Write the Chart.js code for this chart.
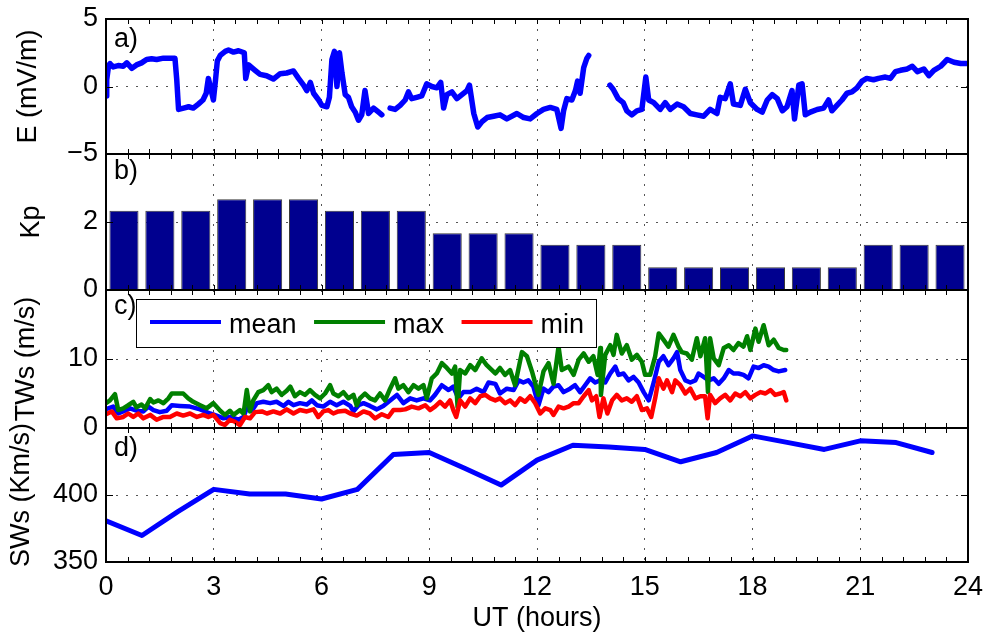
<!DOCTYPE html>
<html><head><meta charset="utf-8">
<script src="https://cdn.jsdelivr.net/npm/chart.js@4/dist/chart.umd.min.js"></script>
<style>
html,body{margin:0;padding:0;background:#fff;}
#wrap{position:relative;width:986px;height:635px;overflow:hidden;}
#wrap canvas{position:absolute;left:0;top:0;}
</style></head><body>
<div id="wrap">
<canvas id="cA" width="986" height="635" style="width:986px;height:635px"></canvas>
<canvas id="cB" width="986" height="635" style="width:986px;height:635px"></canvas>
<canvas id="cC" width="986" height="635" style="width:986px;height:635px"></canvas>
<canvas id="cD" width="986" height="635" style="width:986px;height:635px"></canvas>
</div>
<script>
// ---------- data ----------
const xTickLabels = [0,3,6,9,12,15,18,21,24];
const xTitle = 'UT (hours)';

// a) electric field, [hour, mV/m]
const eData = [
[0.00,-0.7],[0.02,0.5],[0.07,1.5],[0.11,1.7],[0.20,1.45],[0.34,1.55],[0.48,1.5],[0.58,1.75],[0.72,1.35],[0.85,1.6],[0.99,1.75],[1.13,2.0],[1.27,2.05],[1.41,2.0],[1.60,2.1],[1.78,2.1],[1.92,2.1],[1.97,0.5],[2.02,-1.7],[2.16,-1.6],[2.30,-1.5],[2.43,-1.6],[2.57,-1.3],[2.70,-1.0],[2.79,-0.5],[2.85,0.6],[2.92,-0.2],[2.99,-1.0],[3.05,0.5],[3.10,1.9],[3.18,2.3],[3.32,2.6],[3.41,2.7],[3.55,2.55],[3.69,2.65],[3.85,2.5],[3.89,0.6],[3.97,1.6],[4.06,1.4],[4.15,1.2],[4.29,0.9],[4.47,0.8],[4.66,0.55],[4.85,0.95],[5.03,1.0],[5.22,1.15],[5.36,0.6],[5.50,0.1],[5.59,-0.3],[5.69,0.3],[5.78,-0.5],[5.92,-1.0],[6.01,-1.4],[6.15,-1.5],[6.22,-0.8],[6.29,2.0],[6.36,2.6],[6.43,0.0],[6.50,2.5],[6.57,1.0],[6.66,-0.6],[6.75,-0.8],[6.84,-1.5],[6.94,-1.9],[7.03,-2.5],[7.12,-2.1],[7.21,-0.3],[7.31,-2.0],[7.45,-1.6],[7.59,-1.9],[7.68,-2.1],[7.80,null],
[7.91,-1.6],[8.05,-1.7],[8.19,-1.4],[8.33,-1.0],[8.42,-0.4],[8.51,-0.9],[8.65,-0.8],[8.79,-0.7],[8.93,0.2],[9.07,0.0],[9.21,-0.1],[9.32,0.3],[9.40,-1.6],[9.49,-0.6],[9.63,-0.4],[9.77,-0.9],[9.91,-0.6],[10.05,-0.3],[10.12,0.1],[10.24,-2.0],[10.35,-3.0],[10.47,-2.6],[10.61,-2.3],[10.79,-2.2],[10.97,-2.1],[11.16,-2.4],[11.44,-2.0],[11.63,-2.3],[11.81,-2.4],[12.00,-2.0],[12.18,-1.7],[12.37,-1.55],[12.55,-1.7],[12.67,-3.1],[12.74,-1.8],[12.83,-0.9],[12.97,-1.0],[13.07,-0.3],[13.13,0.4],[13.20,-0.5],[13.30,1.4],[13.39,2.1],[13.44,2.3],[13.70,null],
[14.03,0.1],[14.12,-0.2],[14.26,-0.9],[14.40,-1.2],[14.50,-1.8],[14.64,-2.1],[14.78,-1.8],[14.92,-1.7],[15.03,0.7],[15.11,-1.0],[15.25,-1.2],[15.43,-1.7],[15.57,-1.2],[15.71,-1.7],[15.90,-1.3],[16.08,-1.5],[16.27,-2.0],[16.45,-2.1],[16.64,-2.2],[16.82,-1.7],[17.01,-2.0],[17.10,-0.8],[17.24,-0.9],[17.38,0.2],[17.47,-1.3],[17.66,-1.4],[17.80,-0.2],[17.94,-1.2],[18.13,-1.7],[18.27,-1.9],[18.41,-1.0],[18.55,-0.6],[18.69,-0.9],[18.83,-1.8],[18.96,-1.5],[19.10,-0.3],[19.17,-2.4],[19.29,0.1],[19.38,0.2],[19.47,-2.1],[19.61,-1.9],[19.80,-1.7],[19.98,-1.6],[20.12,-1.0],[20.21,-1.8],[20.35,-1.4],[20.49,-1.0],[20.63,-0.5],[20.77,-0.4],[20.91,-0.1],[21.05,0.4],[21.18,0.6],[21.37,0.5],[21.51,0.6],[21.70,0.7],[21.84,0.6],[21.98,1.1],[22.12,1.2],[22.31,1.3],[22.45,1.5],[22.59,1.1],[22.77,1.3],[22.91,0.8],[23.05,1.2],[23.24,1.5],[23.42,2.0],[23.61,1.8],[23.80,1.7],[24.00,1.7]
];

// b) Kp index, 3-hourly blocks plotted per hour
const kpHours = [0.5,1.5,2.5,3.5,4.5,5.5,6.5,7.5,8.5,9.5,10.5,11.5,12.5,13.5,14.5,15.5,16.5,17.5,18.5,19.5,20.5,21.5,22.5,23.5];
const kpValues = [2.33,2.33,2.33,2.67,2.67,2.67,2.33,2.33,2.33,1.67,1.67,1.67,1.33,1.33,1.33,0.67,0.67,0.67,0.67,0.67,0.67,1.33,1.33,1.33];

// c) TWs (m/s), [hour, value]
const seriesLabels = ['mean','max','min'];
const twsMean = [
[0.00,2.74],[0.20,3.1],[0.34,2.1],[0.48,2.4],[0.67,2.85],[0.85,2.5],[1.04,2.4],[1.18,3.1],[1.32,2.6],[1.50,2.3],[1.69,2.5],[1.83,3.3],[2.06,3.2],[2.34,3.1],[2.62,2.7],[2.90,2.1],[3.08,1.8],[3.27,1.4],[3.45,1.6],[3.69,1.2],[3.83,1.6],[3.92,2.85],[4.06,2.5],[4.20,3.6],[4.38,3.8],[4.57,3.6],[4.75,3.8],[4.94,3.2],[5.08,3.8],[5.22,3.3],[5.40,3.6],[5.59,3.4],[5.73,4.0],[5.87,3.3],[6.05,3.1],[6.24,3.8],[6.42,3.3],[6.61,3.8],[6.80,3.2],[6.89,2.4],[7.03,3.3],[7.17,3.6],[7.35,3.2],[7.54,2.7],[7.72,3.2],[7.91,4.0],[8.10,4.8],[8.28,3.6],[8.47,4.3],[8.65,4.0],[8.84,4.3],[9.02,4.0],[9.16,4.8],[9.35,6.2],[9.54,5.5],[9.67,6.0],[9.81,4.3],[9.95,5.2],[10.14,5.2],[10.32,5.7],[10.51,5.2],[10.65,6.6],
[10.84,6.4],[10.97,5.0],[11.16,5.7],[11.35,5.5],[11.49,6.9],[11.62,6.6],[11.76,6.9],[11.90,6.0],[12.04,3.3],[12.18,5.7],[12.32,5.2],[12.46,6.0],[12.60,6.2],[12.74,5.2],[12.92,5.7],[13.06,6.2],[13.20,5.2],[13.34,6.2],[13.48,7.2],[13.62,6.6],[13.76,6.9],[13.90,6.6],[14.04,7.9],[14.18,8.9],[14.27,7.7],[14.41,7.9],[14.55,6.9],[14.69,7.4],[14.83,6.6],[14.97,5.2],[15.11,4.0],[15.25,6.6],[15.39,9.6],[15.52,10.4],[15.66,9.1],[15.80,10.1],[15.90,11.0],[15.99,8.4],[16.13,6.9],[16.27,6.6],[16.41,6.9],[16.50,7.9],[16.64,7.4],[16.78,6.9],[16.92,7.2],[17.06,6.4],[17.20,7.2],[17.34,8.4],[17.47,7.9],[17.61,7.9],[17.75,7.7],[17.89,7.2],[18.03,8.9],[18.17,8.7],[18.31,9.1],[18.45,8.9],[18.59,8.4],[18.73,8.2],[18.91,8.4]
];
const twsMax = [
[0.00,3.6],[0.11,4.0],[0.25,4.9],[0.34,2.6],[0.48,2.85],[0.62,3.3],[0.76,3.8],[0.85,3.0],[0.99,3.4],[1.09,2.85],[1.23,4.2],[1.32,3.7],[1.46,4.0],[1.60,3.6],[1.74,4.3],[1.83,5.0],[1.97,5.0],[2.15,5.0],[2.29,4.3],[2.43,3.8],[2.62,3.3],[2.80,2.85],[2.99,3.6],[3.18,2.5],[3.31,1.9],[3.45,2.5],[3.55,1.9],[3.73,2.6],[3.83,2.1],[3.92,5.5],[4.01,2.4],[4.10,4.0],[4.24,5.2],[4.38,5.5],[4.52,6.2],[4.61,5.2],[4.75,5.7],[4.89,4.8],[5.03,5.4],[5.13,6.0],[5.26,4.6],[5.40,5.2],[5.54,4.8],[5.68,5.5],[5.82,4.8],[5.96,4.3],[6.10,5.0],[6.24,6.2],[6.33,5.0],[6.47,4.6],[6.61,5.2],[6.75,4.3],[6.89,4.8],[6.98,3.3],[7.07,4.3],[7.21,5.0],[7.35,4.3],[7.49,4.0],[7.63,5.0],[7.77,4.0],[7.91,5.7],[8.05,7.2],[8.14,5.7],[8.28,6.2],[8.42,5.2],[8.56,6.2],[8.70,5.7],[8.84,6.2],[8.93,4.3],[9.07,7.2],[9.21,7.9],[9.35,9.4],[9.49,8.7],[9.63,7.9],[9.72,8.9],[9.79,3.0],[9.86,8.4],[10.00,7.9],[10.14,9.1],[10.28,8.4],[10.46,10.1],[10.60,9.1],
[10.84,7.9],[10.97,8.7],[11.11,7.7],[11.25,8.4],[11.39,6.2],[11.58,11.0],[11.72,10.4],[11.86,8.2],[12.04,4.8],[12.18,8.2],[12.32,9.4],[12.46,6.4],[12.60,11.8],[12.69,8.4],[12.88,8.9],[13.02,7.7],[13.16,9.9],[13.30,10.8],[13.44,9.6],[13.57,10.4],[13.69,7.7],[13.76,11.6],[13.78,4.8],[13.90,10.6],[14.04,12.0],[14.13,10.6],[14.22,13.5],[14.36,10.8],[14.50,12.0],[14.64,9.9],[14.78,10.6],[14.92,9.6],[15.01,7.7],[15.15,7.7],[15.29,10.4],[15.39,13.7],[15.52,12.8],[15.66,11.8],[15.80,13.5],[15.94,11.8],[16.03,11.0],[16.17,10.8],[16.31,9.9],[16.45,13.0],[16.55,10.4],[16.68,13.0],[16.76,5.2],[16.82,13.0],[16.92,10.1],[17.06,9.1],[17.20,11.6],[17.34,12.0],[17.47,11.3],[17.61,12.3],[17.75,11.8],[17.85,13.3],[17.94,11.3],[18.08,14.4],[18.17,12.5],[18.31,14.9],[18.45,12.0],[18.59,12.8],[18.73,11.6],[18.87,11.3],[18.94,11.3]
];
const twsMin = [
[0.00,2.0],[0.16,2.4],[0.30,1.4],[0.48,1.6],[0.62,2.1],[0.76,1.6],[0.90,2.1],[1.04,1.4],[1.23,1.9],[1.41,1.2],[1.60,1.6],[1.78,1.6],[1.97,2.1],[2.15,1.8],[2.34,2.1],[2.53,1.6],[2.71,1.9],[2.85,1.6],[2.99,1.9],[3.18,0.7],[3.31,0.43],[3.45,1.2],[3.59,0.9],[3.73,0.43],[3.87,1.6],[4.01,1.4],[4.15,2.3],[4.34,2.4],[4.48,2.1],[4.66,2.4],[4.85,2.1],[5.03,2.7],[5.22,2.1],[5.40,2.6],[5.59,2.4],[5.78,2.7],[5.91,1.6],[6.05,2.4],[6.19,2.6],[6.33,2.1],[6.47,2.4],[6.66,2.5],[6.80,2.1],[6.98,1.8],[7.17,2.4],[7.35,2.1],[7.49,1.4],[7.68,2.0],[7.86,1.6],[8.00,2.6],[8.19,2.6],[8.33,2.7],[8.51,3.1],[8.70,2.85],[8.89,3.3],[9.02,2.6],[9.16,3.1],[9.30,3.8],[9.44,3.1],[9.58,4.0],[9.67,2.6],[9.75,1.6],[9.86,4.0],[10.00,3.1],[10.14,4.3],[10.28,3.6],[10.42,4.6],[10.56,4.8],[10.70,4.3],
[10.84,4.0],[10.97,4.3],[11.11,3.6],[11.25,4.0],[11.39,3.3],[11.53,4.3],[11.67,3.8],[11.81,4.6],[11.95,3.6],[12.09,2.1],[12.23,2.85],[12.37,2.6],[12.46,1.9],[12.60,3.1],[12.74,2.85],[12.88,3.1],[13.02,3.6],[13.16,3.6],[13.30,4.6],[13.44,5.5],[13.53,4.0],[13.65,4.6],[13.74,1.6],[13.85,4.3],[13.96,2.1],[14.09,4.0],[14.22,4.8],[14.36,4.0],[14.50,4.3],[14.64,3.8],[14.78,4.6],[14.92,2.6],[15.06,2.85],[15.18,1.6],[15.29,4.3],[15.39,7.2],[15.52,5.7],[15.62,6.9],[15.76,5.2],[15.85,6.9],[15.99,6.2],[16.13,5.0],[16.27,5.7],[16.41,4.3],[16.55,4.6],[16.68,4.6],[16.75,1.4],[16.82,4.8],[16.96,3.6],[17.10,4.3],[17.24,4.8],[17.38,4.0],[17.52,5.0],[17.66,4.6],[17.80,5.2],[17.94,4.3],[18.08,4.8],[18.22,5.2],[18.36,5.0],[18.50,5.5],[18.63,4.8],[18.77,5.0],[18.87,5.2],[18.94,4.0]
];

// d) solar wind speed (Km/s), hourly
const swHours = [0,1,2,3,4,5,6,7,8,9,10,11,12,13,14,15,16,17,18,19,20,21,22,23];
const swValues = [380.7,369.8,387.6,404.2,400.7,400.7,397.0,404.2,430.2,431.7,419.8,407.4,426.0,437.1,435.9,434.0,424.8,431.7,444.1,439.1,434.0,440.4,439.1,431.7];

// ---------- styling / helpers ----------
const FONT = "'Liberation Sans', Arial, Helvetica, sans-serif";
const X_MINOR_STEP = 0.6;
const GRID_COLOR = '#555';
const NONE = 'rgba(0,0,0,0)';
const fmt = v => v < 0 ? '\u2212' + (-v) : String(v);
const pts = arr => arr.map(p => ({x: p[0], y: p[1]}));

function xAxis(showLabels) {
  return {
    type: 'linear', min: 0, max: 24, offset: false,
    afterBuildTicks: s => { s.ticks = xTickLabels.map(v => ({value: v})); },
    ticks: { display: showLabels, autoSkip: false, maxRotation: 0, padding: 9, color: '#000',
             font: {family: FONT, size: 27}, callback: v => String(v) },
    grid: { offset: false, drawTicks: false, lineWidth: 1,
            color: c => (c.tick && (c.tick.value === 0 || c.tick.value === 24)) ? NONE : GRID_COLOR },
    border: { display: false, dash: [2, 8] },
    title: showLabels ? { display: true, text: xTitle, color: '#000', font: {family: FONT, size: 27}, padding: {top: 0, bottom: 0} } : { display: false },
    afterFit: s => { s.height = showLabels ? 73 : 0; s.paddingLeft = 0; s.paddingRight = 0; }
  };
}
function yAxis(cfg) {
  return {
    type: 'linear', min: cfg.min, max: cfg.max,
    afterBuildTicks: s => { s.ticks = cfg.ticks.map(v => ({value: v})); },
    ticks: { autoSkip: false, padding: 8, color: '#000', font: {family: FONT, size: 27},
             callback: v => cfg.labels.includes(v) ? fmt(v) : '' },
    grid: { drawTicks: false, lineWidth: 1, color: c => (c.tick && c.tick.value === cfg.grid) ? GRID_COLOR : NONE },
    border: { display: false, dash: [2, 8] },
    title: { display: true, text: cfg.title, color: '#000', font: {family: FONT, size: 27}, padding: {top: cfg.titlePad, bottom: 0} },
    afterFit: s => { s.width = 106; s.paddingTop = 0; s.paddingBottom = 0; }
  };
}

const framePlugin = {
  id: 'panelFrame',
  afterDraw(chart, args, opts) {
    const {ctx, chartArea: a, scales} = chart;
    const xs = scales.x, ys = scales.y;
    ctx.save();
    ctx.strokeStyle = '#000';
    ctx.lineWidth = 1;
    ctx.beginPath();
    for (let i = 0; i <= 24 / X_MINOR_STEP + 0.001; i++) {
      const px = Math.round(xs.getPixelForValue(i * X_MINOR_STEP)) + 0.5;
      ctx.moveTo(px, a.top); ctx.lineTo(px, a.top + 5);
      ctx.moveTo(px, a.bottom); ctx.lineTo(px, a.bottom - 5);
    }
    ys.ticks.forEach(t => {
      const py = Math.round(ys.getPixelForValue(t.value)) + 0.5;
      ctx.moveTo(a.left, py); ctx.lineTo(a.left + 7, py);
      ctx.moveTo(a.right, py); ctx.lineTo(a.right - 7, py);
    });
    ctx.stroke();
    ctx.lineWidth = 2;
    ctx.strokeRect(a.left, a.top, a.right - a.left, a.bottom - a.top);
    ctx.fillStyle = '#000';
    ctx.font = '27px ' + FONT;
    ctx.textAlign = 'left';
    ctx.textBaseline = 'alphabetic';
    ctx.fillText(opts.label, a.left + 8, a.top + opts.labelDy);
    ctx.restore();
  }
};

const legendPlugin = {
  id: 'boxLegend',
  afterDatasetsDraw(chart, args, opts) {
    if (!opts.show) return;
    const {ctx, chartArea: a} = chart;
    ctx.save();
    ctx.font = '27px ' + FONT;
    const lineLen = 71, textGap = 8, itemGap = 17.5, padL = 14, padR = 11.5;
    const items = seriesLabels.map(l => chart.data.datasets.find(d => d.label === l));
    let w = padL + padR;
    items.forEach((d, i) => { w += lineLen + textGap + ctx.measureText(d.label).width + (i < items.length - 1 ? itemGap : 0); });
    const bx = a.left + 30, by = a.top + 9, bh = 48;
    ctx.fillStyle = '#fff';
    ctx.fillRect(bx, by, w, bh);
    ctx.strokeStyle = '#000';
    ctx.lineWidth = 1;
    ctx.strokeRect(Math.round(bx) + 0.5, Math.round(by) + 0.5, Math.round(w), bh);
    let x = bx + padL;
    const ly = by + 23;
    items.forEach(d => {
      ctx.strokeStyle = d.borderColor;
      ctx.lineWidth = 4;
      ctx.beginPath(); ctx.moveTo(x, ly); ctx.lineTo(x + lineLen, ly); ctx.stroke();
      x += lineLen + textGap;
      ctx.fillStyle = '#000';
      ctx.textAlign = 'left';
      ctx.textBaseline = 'alphabetic';
      ctx.fillText(d.label, x, by + 34);
      x += ctx.measureText(d.label).width + itemGap;
    });
    ctx.restore();
  }
};

function makeChart(id, type, datasets, yCfg, pad, showX, panel, legend) {
  return new Chart(document.getElementById(id), {
    type: type,
    data: { datasets: datasets },
    options: {
      responsive: false, animation: false, devicePixelRatio: 1, events: [],
      layout: { padding: { left: 0, right: 18, top: pad[0], bottom: pad[1] } },
      scales: { x: xAxis(showX), y: yAxis(yCfg) },
      plugins: { legend: { display: false }, tooltip: { enabled: false },
                 panelFrame: panel, boxLegend: { show: !!legend } }
    },
    plugins: [framePlugin, legendPlugin]
  });
}

const lineBase = { pointRadius: 0, fill: false, tension: 0, borderJoinStyle: 'round', borderCapStyle: 'round', spanGaps: false };

// a)
makeChart('cA', 'line',
  [Object.assign({ label: 'E', data: pts(eData), borderColor: '#0000FF', borderWidth: 5.5 }, lineBase)],
  { min: -5, max: 5, ticks: [-5, 0, 5], labels: [-5, 0, 5], grid: 0, title: 'E (mV/m)', titlePad: 12 },
  [19, 481], false, { label: 'a)', labelDy: 28 });

// b)
makeChart('cB', 'bar',
  [{ label: 'Kp', data: kpHours.map((h, i) => ({x: h, y: kpValues[i]})), backgroundColor: '#00008F',
     borderColor: '#3a3a3a', borderWidth: 1, categoryPercentage: 0.81, barPercentage: 1.0 }],
  { min: 0, max: 4, ticks: [0, 2, 4], labels: [0, 2], grid: 2, title: 'Kp', titlePad: 15 },
  [154, 345], false, { label: 'b)', labelDy: 25 });

// c)
makeChart('cC', 'line',
  [Object.assign({ label: 'mean', data: pts(twsMean), borderColor: '#0000FF', borderWidth: 4.5, order: 3 }, lineBase),
   Object.assign({ label: 'max', data: pts(twsMax), borderColor: '#008000', borderWidth: 4.5, order: 2 }, lineBase),
   Object.assign({ label: 'min', data: pts(twsMin), borderColor: '#FF0000', borderWidth: 4.5, order: 1 }, lineBase)],
  { min: 0, max: 20, ticks: [0, 10, 20], labels: [0, 10], grid: 10, title: 'TWs (m/s)', titlePad: 10 },
  [290, 207], false, { label: 'c)', labelDy: 24 }, true);

// d)
makeChart('cD', 'line',
  [Object.assign({ label: 'SWs', data: swHours.map((h, i) => ({x: h, y: swValues[i]})), borderColor: '#0000FF', borderWidth: 5 }, lineBase)],
  { min: 350, max: 450, ticks: [350, 400, 450], labels: [350, 400], grid: 400, title: 'SWs (Km/s)', titlePad: 5 },
  [428, 0], true, { label: 'd)', labelDy: 28 });
</script>
</body></html>
